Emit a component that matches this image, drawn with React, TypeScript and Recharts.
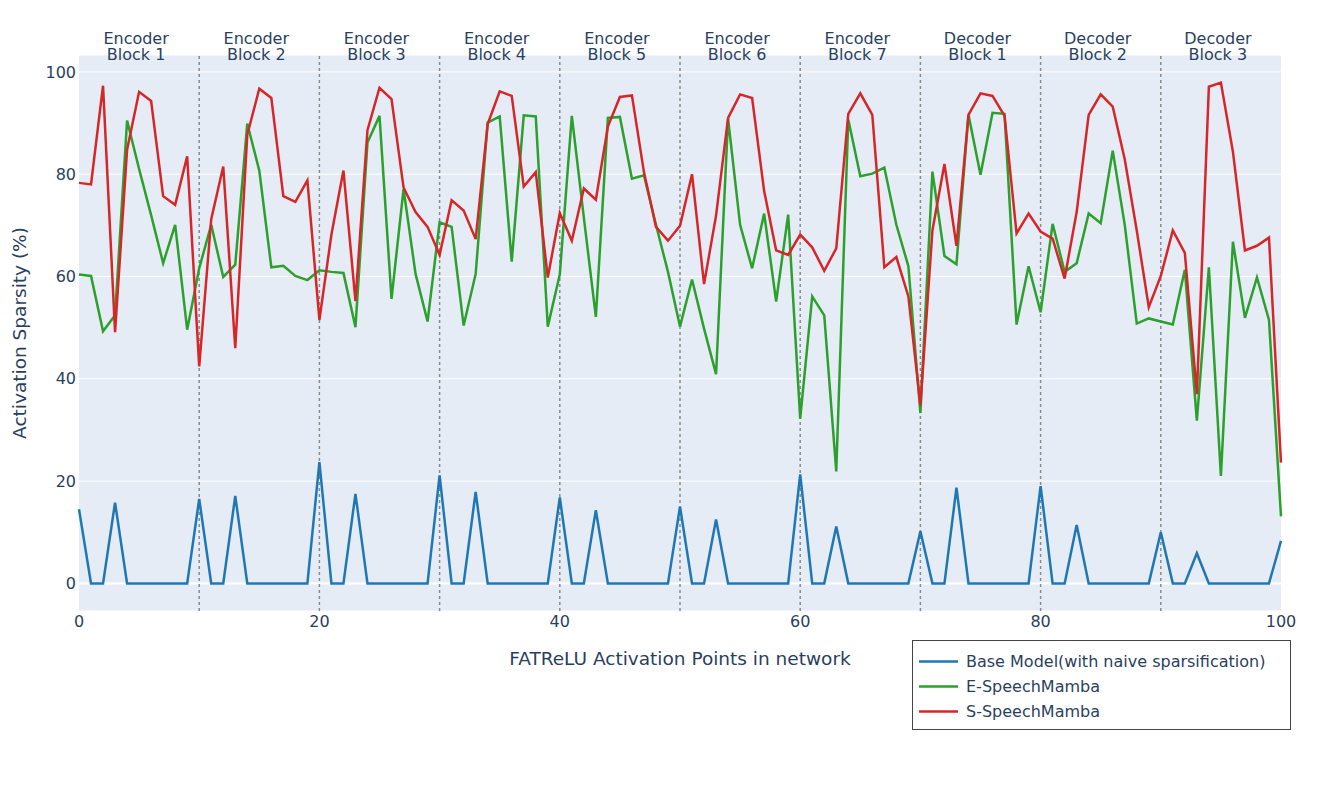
import {
  LineChart,
  Line,
  XAxis,
  YAxis,
  CartesianGrid,
  ReferenceLine,
  Legend,
} from "recharts";

// activation point index 0..100
const points = Array.from({ length: 101 }, (_, i) => i);

const baseModel = [
  14.5, 0, 0, 15.8, 0, 0, 0, 0, 0, 0,
  16.5, 0, 0, 17.1, 0, 0, 0, 0, 0, 0,
  23.7, 0, 0, 17.5, 0, 0, 0, 0, 0, 0,
  21.1, 0, 0, 17.9, 0, 0, 0, 0, 0, 0,
  16.8, 0, 0, 14.3, 0, 0, 0, 0, 0, 0,
  15.0, 0, 0, 12.5, 0, 0, 0, 0, 0, 0,
  21.3, 0, 0, 11.1, 0, 0, 0, 0, 0, 0,
  10.2, 0, 0, 18.7, 0, 0, 0, 0, 0, 0,
  19.0, 0, 0, 11.4, 0, 0, 0, 0, 0, 0,
  10.0, 0, 0, 5.9, 0, 0, 0, 0, 0, 0,
  8.3,
];

const eSpeechMamba = [
  60.4, 60.1, 49.3, 52.4, 90.5, 81.0, 72.0, 62.6, 70.1, 49.6,
  61.6, 70.1, 59.9, 62.3, 89.9, 80.7, 61.8, 62.1, 60.1, 59.3,
  61.2, 60.9, 60.7, 50.1, 86.2, 91.4, 55.6, 77.1, 60.5, 51.2,
  70.6, 69.7, 50.4, 60.5, 90.1, 91.3, 62.9, 91.5, 91.3, 50.2,
  60.4, 91.4, 71.5, 52.1, 91.0, 91.2, 79.1, 79.8, 70.1, 60.9,
  50.2, 59.4, 49.8, 40.9, 90.8, 70.1, 61.6, 72.3, 55.1, 72.1,
  32.2, 56.1, 52.4, 21.9, 90.7, 79.6, 80.1, 81.3, 70.1, 62.0,
  33.3, 80.5, 64.0, 62.4, 91.6, 79.9, 92.0, 91.8, 50.6, 62.0,
  53.0, 70.3, 60.9, 62.6, 72.3, 70.4, 84.6, 70.1, 50.8, 51.8,
  51.2, 50.6, 61.3, 31.8, 61.8, 21.0, 66.8, 51.9, 59.8, 51.5,
  13.1,
];

const sSpeechMamba = [
  78.3, 78.0, 97.3, 49.1, 84.8, 96.1, 94.3, 75.7, 74.0, 83.5,
  42.4, 71.2, 81.5, 46.0, 87.7, 96.7, 94.9, 75.7, 74.6, 78.8,
  51.5, 68.2, 80.7, 55.2, 88.6, 96.9, 94.7, 77.4, 72.6, 69.7,
  64.2, 74.9, 72.9, 67.3, 89.8, 96.2, 95.3, 77.6, 80.4, 59.8,
  72.4, 67.0, 77.2, 75.0, 89.3, 95.1, 95.4, 80.4, 69.7, 67.0,
  69.9, 80.0, 58.5, 71.9, 91.0, 95.6, 94.9, 76.7, 65.1, 64.2,
  68.2, 65.7, 61.1, 65.5, 91.8, 95.8, 91.6, 61.8, 63.8, 56.1,
  34.8, 69.0, 82.0, 66.0, 91.6, 95.8, 95.3, 91.4, 68.4, 72.3,
  68.8, 67.4, 59.6, 72.6, 91.6, 95.6, 93.2, 82.9, 69.0, 54.0,
  60.1, 69.0, 64.6, 37.0, 97.1, 97.9, 84.4, 65.1, 66.0, 67.6,
  23.6,
];

const seriesNames = [
  "Base Model(with naive sparsification)",
  "E-SpeechMamba",
  "S-SpeechMamba",
];
const seriesColors = ["#1f77b4", "#2ca02c", "#d62728"];

const blockCenters = [4.75, 14.75, 24.75, 34.75, 44.75, 54.75, 64.75, 74.75, 84.75, 94.75];
const blockKinds = [
  "Encoder", "Encoder", "Encoder", "Encoder", "Encoder", "Encoder", "Encoder",
  "Decoder", "Decoder", "Decoder",
];
const blockNames = [
  "Block 1", "Block 2", "Block 3", "Block 4", "Block 5", "Block 6", "Block 7",
  "Block 1", "Block 2", "Block 3",
];
const blockEdges = [10, 20, 30, 40, 50, 60, 70, 80, 90];

const xTicks = [0, 20, 40, 60, 80, 100];
const yTicks = [0, 20, 40, 60, 80, 100];

const data = points.map((p, i) => ({
  p,
  base: baseModel[i],
  e: eSpeechMamba[i],
  s: sSpeechMamba[i],
}));

const ink = "#2a3f5f";
const font = "'DejaVu Sans', Verdana, sans-serif";

const BlockTick = (props: any) => {
  const { x, payload } = props;
  const i = blockCenters.indexOf(payload.value);
  return (
    <text x={x} y={36} textAnchor="middle" fill={ink} fontSize={16} fontFamily={font}>
      <tspan x={x} y={36}>{blockKinds[i]}</tspan>
      <tspan x={x} y={52}>{blockNames[i]}</tspan>
    </text>
  );
};

const LegendBox = () => (
  <svg width={379} height={90} style={{ display: "block" }}>
    <rect x={0.5} y={0.5} width={378} height={89} fill="#fff" stroke="#444" strokeWidth={1} />
    {seriesNames.map((name, i) => {
      const cy = 21.5 + i * 25;
      return (
        <g key={name}>
          <line x1={7} x2={46} y1={cy} y2={cy} stroke={seriesColors[i]} strokeWidth={2.5} />
          <text x={54} y={cy + 5.5} fill={ink} fontSize={16} fontFamily={font}>
            {name}
          </text>
        </g>
      );
    })}
  </svg>
);

export default function App() {
  return (
    <LineChart
      width={1325}
      height={770}
      data={data}
      margin={{ top: 0, right: 52, bottom: 107, left: 0 }}
    >
      <CartesianGrid
        horizontal
        vertical={false}
        stroke="#fff"
        strokeWidth={1}
        fill="#E5ECF6"
        fillOpacity={1}
      />
      <XAxis
        xAxisId="top"
        orientation="top"
        type="number"
        domain={[0, 100]}
        ticks={blockCenters}
        interval={0}
        axisLine={false}
        tickLine={false}
        height={47}
        tick={<BlockTick />}
      />
      <XAxis
        dataKey="p"
        type="number"
        domain={[0, 100]}
        ticks={xTicks}
        interval={0}
        axisLine={false}
        tickLine={false}
        tickSize={0}
        tickMargin={5}
        height={60}
        tick={{ fill: ink, fontSize: 16, fontFamily: font }}
        label={(props: any) => {
          const vb = props.viewBox;
          return (
            <text
              x={vb.x + vb.width / 2}
              y={657}
              textAnchor="middle"
              fill={ink}
              fontSize={18.5}
              fontFamily={font}
            >
              FATReLU Activation Points in network
            </text>
          );
        }}
      />
      <YAxis
        type="number"
        domain={[-5.4, 103.3]}
        ticks={yTicks}
        interval={0}
        allowDataOverflow
        axisLine={false}
        tickLine={false}
        tickSize={0}
        tickMargin={3}
        width={71}
        tick={{ fill: ink, fontSize: 16, fontFamily: font }}
        label={(props: any) => {
          const vb = props.viewBox;
          const cx = 11;
          const cy = vb.y + vb.height / 2;
          return (
            <text
              x={cx}
              y={cy}
              transform={`rotate(-90 ${cx} ${cy})`}
              textAnchor="middle"
              dominantBaseline="central"
              fill={ink}
              fontSize={18.5}
              fontFamily={font}
            >
              Activation Sparsity (%)
            </text>
          );
        }}
      />
      <ReferenceLine y={0} stroke="#fff" strokeWidth={2} />
      {blockEdges.map((x) => (
        <ReferenceLine
          key={x}
          x={x}
          stroke="#8a8a8a"
          strokeWidth={1.5}
          strokeDasharray="3 3"
        />
      ))}
      <Line
        dataKey="base"
        name={seriesNames[0]}
        stroke={seriesColors[0]}
        strokeWidth={2.5}
        dot={false}
        type="linear"
        isAnimationActive={false}
      />
      <Line
        dataKey="e"
        name={seriesNames[1]}
        stroke={seriesColors[1]}
        strokeWidth={2.5}
        dot={false}
        type="linear"
        isAnimationActive={false}
      />
      <Line
        dataKey="s"
        name={seriesNames[2]}
        stroke={seriesColors[2]}
        strokeWidth={2.5}
        dot={false}
        type="linear"
        isAnimationActive={false}
      />
      <Legend
        layout="vertical"
        align="center"
        verticalAlign="middle"
        wrapperStyle={{ left: 904, top: 632, width: 379, height: 90 }}
        content={() => <LegendBox />}
      />
    </LineChart>
  );
}
